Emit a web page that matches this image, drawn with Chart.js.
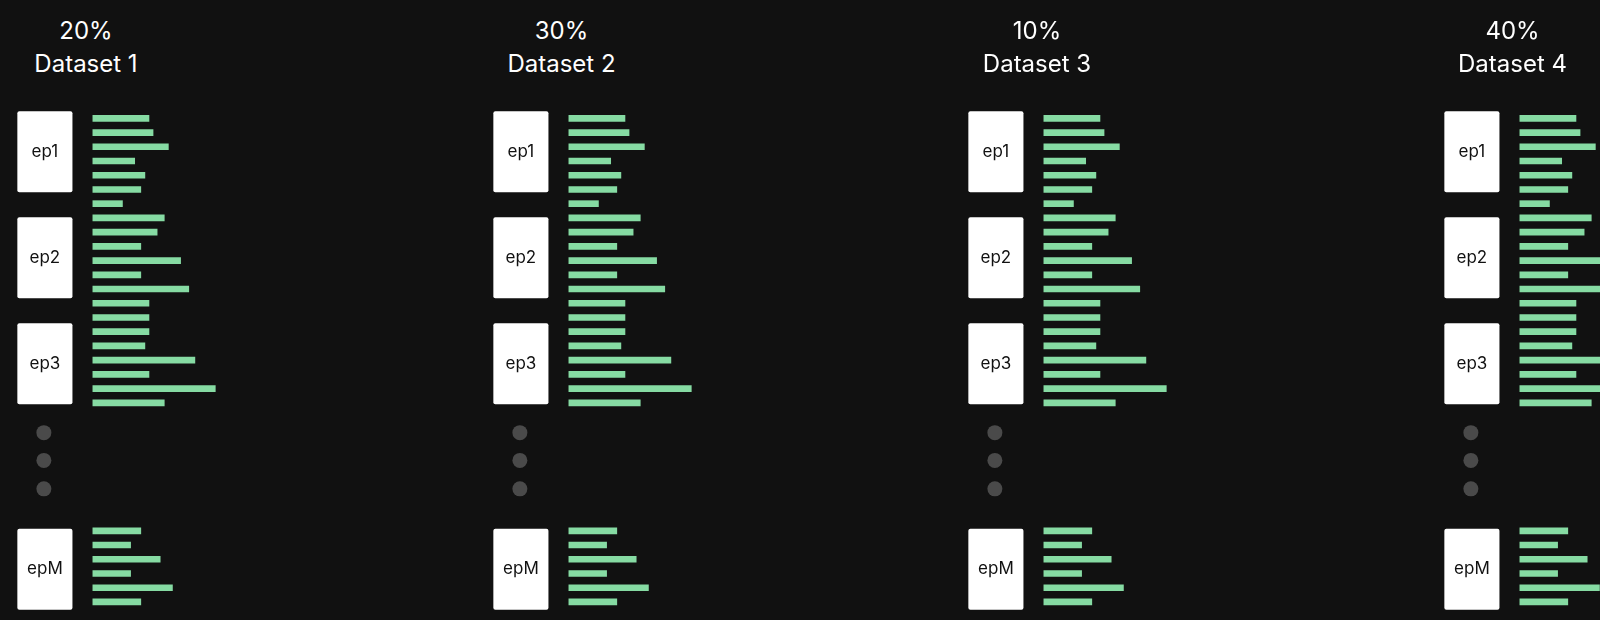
<!DOCTYPE html>
<html><head><meta charset="utf-8">
<script src="https://cdn.jsdelivr.net/npm/chart.js@4"></script>
<style>
html,body{margin:0;background:#111;width:1600px;height:620px;overflow:hidden;font-family:Inter,"Noto Sans",sans-serif}
.p{position:absolute;top:0;width:476px;height:620px}
.t{position:absolute;top:14px;left:0;width:172px;text-align:center;color:#fff;font-size:24px;line-height:33px}
canvas{position:absolute;left:0;top:0}
</style></head><body>
<script>
const percents = ['20%','30%','10%','40%'];
const datasetNames = ['Dataset 1','Dataset 2','Dataset 3','Dataset 4'];
const epLabels = ['ep1','ep2','ep3','epM'];
const rows = [0,1,2,3,4,5,6,7,8,9,10,11,12,13,14,15,16,17,18,19,20,29,30,31,32,33,34];
const lengths = [55,59,74,41,51,47,29,70,63,47,86,47,94,55,55,55,51,100,55,120,70,47,37,66,37,78,47];
const boxRows = [[-0.5,5.2],[6.95,12.65],[14.4,20.1],[28.85,34.55]];
const dotRows = [22.1,24.05,26.05];

const deco = {
  id:'deco',
  beforeDatasetsDraw(c){
    const ctx=c.ctx, x=c.scales.x, y=c.scales.y;
    ctx.save();
    boxRows.forEach((b,i)=>{
      const x0=x.getPixelForValue(-74), x1=x.getPixelForValue(-20);
      const y0=y.getPixelForValue(b[0]), y1=y.getPixelForValue(b[1]);
      ctx.fillStyle='#fff';
      ctx.beginPath(); ctx.roundRect(x0,y0,x1-x0,y1-y0,2); ctx.fill();
      ctx.fillStyle='#111'; ctx.font='17px Inter, sans-serif';
      ctx.textAlign='center'; ctx.textBaseline='middle';
      ctx.fillText(epLabels[i],(x0+x1)/2,(y0+y1)/2);
    });
    ctx.fillStyle='#4a4a4a';
    dotRows.forEach(r=>{ctx.beginPath();ctx.arc(x.getPixelForValue(-48),y.getPixelForValue(r),7.5,0,Math.PI*2);ctx.fill();});
    ctx.restore();
  }
};

for(let k=0;k<4;k++){
  const p=document.createElement('div'); p.className='p'; p.style.left=(k*475.5)+'px';
  p.innerHTML='<div class="t">'+percents[k]+'<br>'+datasetNames[k]+'</div>';
  const cv=document.createElement('canvas'); cv.width=476; cv.height=620;
  cv.style.width='476px'; cv.style.height='620px';
  p.appendChild(cv); document.body.appendChild(p);
  new Chart(cv,{type:'bar',
    data:{datasets:[{data:rows.map((r,i)=>({x:lengths[i],y:r})),backgroundColor:'#86dba3',barThickness:6,borderWidth:0}]},
    options:{indexAxis:'y',responsive:false,animation:false,devicePixelRatio:1,
      layout:{padding:0},
      plugins:{legend:{display:false},tooltip:{enabled:false}},
      scales:{
        x:{type:'linear',min:-91,max:375.5,display:false,offset:false},
        y:{type:'linear',min:-8.32,max:35.27,reverse:true,display:false,offset:false}
      }},
    plugins:[deco]});
}
</script></body></html>
